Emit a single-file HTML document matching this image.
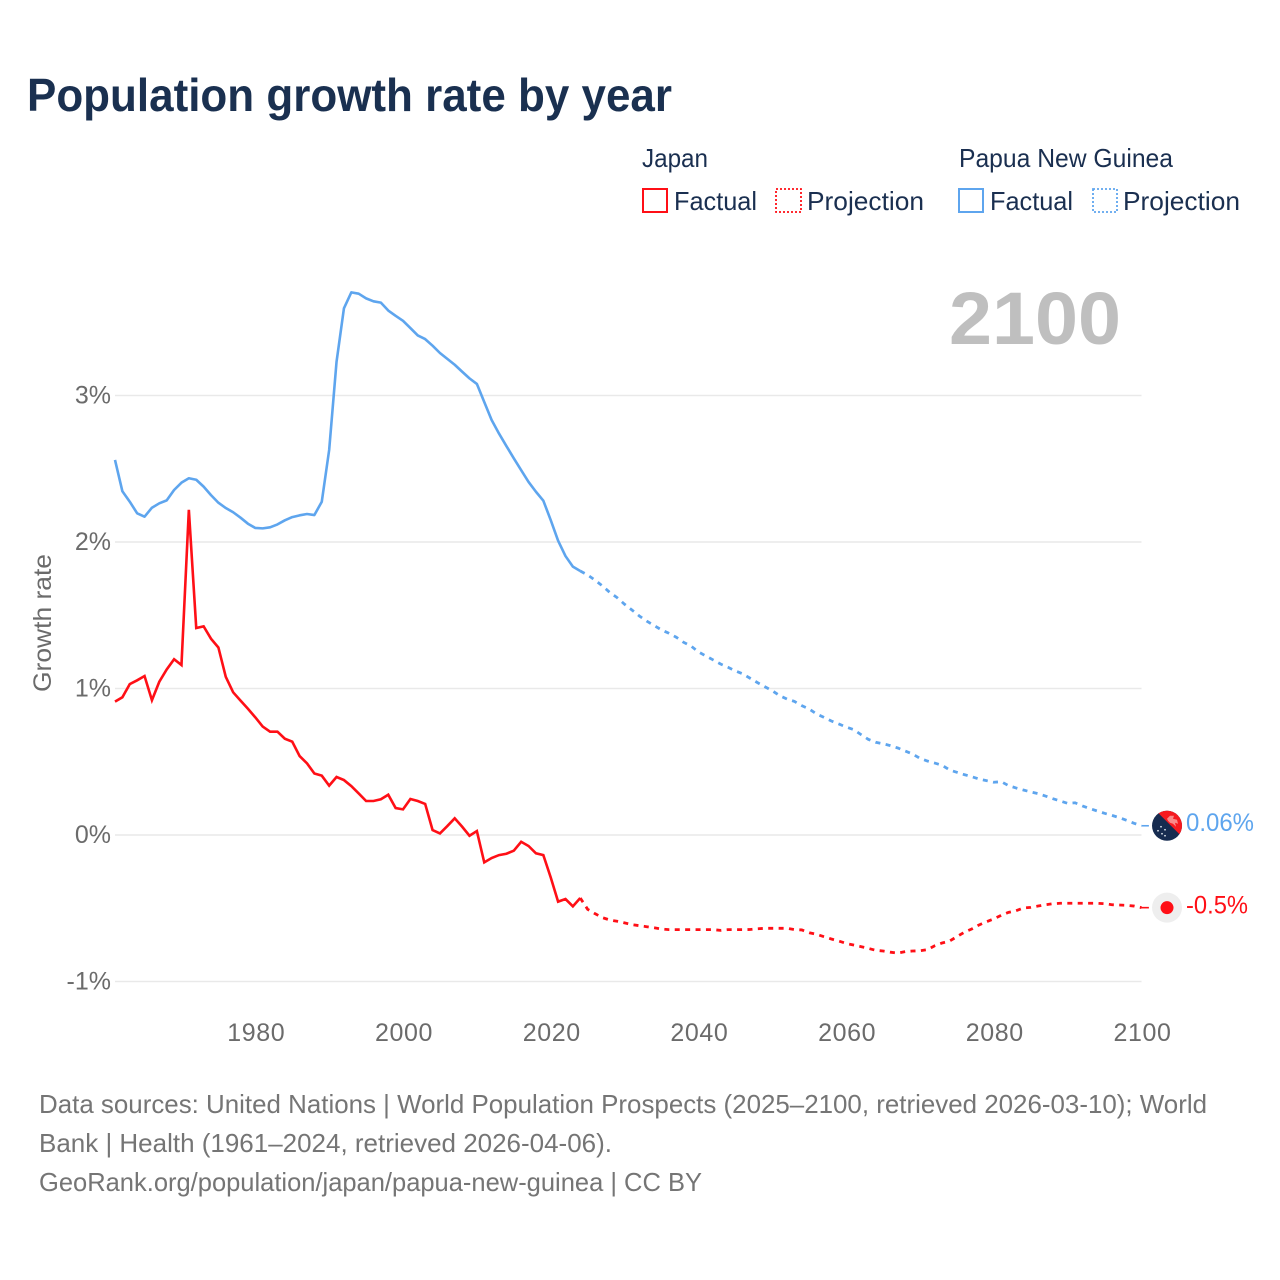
<!DOCTYPE html>
<html lang="en">
<head>
<meta charset="utf-8">
<title>Population growth rate by year</title>
<style>
  html, body { margin: 0; padding: 0; background: #fff; }
  svg { display: block; font-family: "Liberation Sans", Arial, sans-serif; }
</style>
</head>
<body>
<svg id="chart" xmlns="http://www.w3.org/2000/svg" width="1280" height="1280" viewBox="0 0 1280 1280">
  <rect x="0" y="0" width="1280" height="1280" fill="#ffffff"/>
  <text x="27" y="111" font-size="46" font-weight="700" fill="#1a3050" textLength="645" lengthAdjust="spacingAndGlyphs">Population growth rate by year</text>

  <g font-size="26" fill="#1a2f50">
    <text x="642" y="167" textLength="66" lengthAdjust="spacingAndGlyphs">Japan</text>
    <text x="959" y="167" textLength="214" lengthAdjust="spacingAndGlyphs">Papua New Guinea</text>
    <g>
      <rect x="643" y="189" width="24" height="23" fill="none" stroke="#ff0f16" stroke-width="2"/>
      <text x="674" y="210" textLength="83" lengthAdjust="spacingAndGlyphs">Factual</text>
    </g>
    <g>
      <rect x="776" y="189" width="25" height="23" fill="none" stroke="#ff0f16" stroke-width="1.8" stroke-dasharray="2 2"/>
      <text x="807" y="210" textLength="117" lengthAdjust="spacingAndGlyphs">Projection</text>
    </g>
    <g>
      <rect x="959" y="189" width="24" height="23" fill="none" stroke="#5ea5ee" stroke-width="2"/>
      <text x="990" y="210" textLength="83" lengthAdjust="spacingAndGlyphs">Factual</text>
    </g>
    <g>
      <rect x="1093" y="189" width="24" height="23" fill="none" stroke="#5ea5ee" stroke-width="1.8" stroke-dasharray="2 2"/>
      <text x="1123" y="210" textLength="117" lengthAdjust="spacingAndGlyphs">Projection</text>
    </g>
  </g>

  <text x="949" y="344" font-size="74" font-weight="700" fill="#bfbfbf" textLength="172" lengthAdjust="spacingAndGlyphs">2100</text>
  <text transform="translate(51 692) rotate(-90)" font-size="25" fill="#6b6b6b" textLength="138" lengthAdjust="spacingAndGlyphs">Growth rate</text>

  <g id="grid"></g>
  <g id="yticks" font-size="25" fill="#6b6b6b" text-anchor="end"></g>
  <g id="xticks" font-size="25" fill="#6b6b6b" text-anchor="middle"></g>
  <g id="series"></g>
  <g id="markers"></g>

  <g font-size="26" fill="#757575">
    <text x="39" y="1113" textLength="1168" lengthAdjust="spacingAndGlyphs">Data sources: United Nations | World Population Prospects (2025–2100, retrieved 2026-03-10); World</text>
    <text x="39" y="1152" textLength="573" lengthAdjust="spacingAndGlyphs">Bank | Health (1961–2024, retrieved 2026-04-06).</text>
    <text x="39" y="1191" textLength="663" lengthAdjust="spacingAndGlyphs">GeoRank.org/population/japan/papua-new-guinea | CC BY</text>
  </g>
</svg>
<script>
const factualStartYear = 1961;
const projectionStartYear = 2024;
const japanFactual = [0.91,0.94,1.03,1.056,1.085,0.92,1.046,1.13,1.20,1.16,2.22,1.413,1.424,1.34,1.28,1.08,0.974,0.917,0.862,0.803,0.74,0.705,0.705,0.657,0.637,0.539,0.489,0.42,0.405,0.337,0.396,0.375,0.334,0.284,0.232,0.232,0.244,0.275,0.184,0.175,0.246,0.232,0.212,0.034,0.011,0.061,0.114,0.057,-0.005,0.027,-0.187,-0.157,-0.137,-0.128,-0.107,-0.046,-0.075,-0.125,-0.137,-0.289,-0.455,-0.437,-0.487,-0.43];
const japanProjection = [-0.43,-0.507,-0.537,-0.564,-0.58,-0.589,-0.60,-0.612,-0.619,-0.626,-0.633,-0.642,-0.646,-0.646,-0.646,-0.646,-0.646,-0.646,-0.646,-0.651,-0.646,-0.646,-0.646,-0.645,-0.64,-0.637,-0.637,-0.637,-0.637,-0.646,-0.648,-0.667,-0.678,-0.694,-0.71,-0.724,-0.74,-0.751,-0.762,-0.774,-0.787,-0.792,-0.80,-0.806,-0.796,-0.792,-0.79,-0.783,-0.756,-0.737,-0.724,-0.694,-0.664,-0.642,-0.614,-0.592,-0.573,-0.548,-0.528,-0.517,-0.498,-0.494,-0.485,-0.476,-0.469,-0.466,-0.466,-0.466,-0.466,-0.466,-0.466,-0.469,-0.476,-0.478,-0.48,-0.485,-0.496];
const pngFactual = [2.56,2.346,2.275,2.196,2.173,2.234,2.264,2.284,2.355,2.405,2.435,2.425,2.378,2.32,2.268,2.232,2.203,2.166,2.125,2.096,2.093,2.10,2.12,2.148,2.17,2.182,2.191,2.184,2.275,2.628,3.231,3.595,3.704,3.695,3.663,3.643,3.634,3.58,3.544,3.51,3.46,3.41,3.385,3.34,3.29,3.25,3.21,3.163,3.117,3.079,2.956,2.833,2.74,2.655,2.571,2.49,2.41,2.343,2.282,2.15,2.009,1.904,1.832,1.802];
const pngProjection = [1.802,1.775,1.74,1.70,1.656,1.62,1.575,1.536,1.495,1.46,1.43,1.40,1.377,1.35,1.315,1.29,1.25,1.222,1.195,1.167,1.145,1.12,1.10,1.07,1.04,1.012,0.985,0.951,0.928,0.912,0.883,0.86,0.826,0.803,0.778,0.758,0.737,0.72,0.686,0.653,0.633,0.623,0.61,0.594,0.573,0.553,0.523,0.505,0.491,0.476,0.444,0.428,0.412,0.398,0.382,0.371,0.36,0.364,0.337,0.321,0.307,0.294,0.282,0.266,0.248,0.232,0.216,0.22,0.198,0.18,0.164,0.148,0.134,0.118,0.10,0.08,0.063];
const yTickValues = [3, 2, 1, 0, -1];
const yTickLabels = ["3%", "2%", "1%", "0%", "-1%"];
const xTickYears = [1980, 2000, 2020, 2040, 2060, 2080, 2100];
const endLabels = ["0.06%", "-0.5%"];

const NS = "http://www.w3.org/2000/svg";
const RED = "#ff0f16";
const BLUE = "#5ea5ee";
function xScale(year) { return 115 + (year - 1961) * 7.385; }
function yScale(v) { return 835 - v * 146.5; }
function make(tag, attrs, parent) {
  const el = document.createElementNS(NS, tag);
  for (const k in attrs) el.setAttribute(k, attrs[k]);
  parent.appendChild(el);
  return el;
}
function pathFrom(values, startYear) {
  return values.map(function (v, i) {
    return (i ? "L" : "M") + xScale(startYear + i).toFixed(2) + " " + yScale(v).toFixed(2);
  }).join(" ");
}

const gridG = document.getElementById("grid");
const yG = document.getElementById("yticks");
const xG = document.getElementById("xticks");
const seriesG = document.getElementById("series");
const markersG = document.getElementById("markers");

yTickValues.forEach(function (v, i) {
  const line = make("line", { x1: xScale(1961), x2: xScale(2100), y1: yScale(v), y2: yScale(v), stroke: "#e9e9e9", "stroke-width": 1.6 }, gridG);
  
  
  const label = make("text", { x: 111, y: yScale(v) + 8 }, yG);
  
  
  label.textContent = yTickLabels[i];
});

xTickYears.forEach(function (year) {
  const label = make("text", { x: xScale(year) + 1, y: 1041, "letter-spacing": "0.6" }, xG);
  
  
  label.textContent = String(year);
});

const pngLine = make("path", { d: pathFrom(pngFactual, factualStartYear), fill: "none", stroke: BLUE, "stroke-width": 2.6, "stroke-linejoin": "round" }, seriesG);



const pngDash = make("path", { d: pathFrom(pngProjection, projectionStartYear), fill: "none", stroke: BLUE, "stroke-width": 2.8, "stroke-dasharray": "5 5.4" }, seriesG);



const jpLine = make("path", { d: pathFrom(japanFactual, factualStartYear), fill: "none", stroke: RED, "stroke-width": 2.6, "stroke-linejoin": "miter" }, seriesG);



const jpDash = make("path", { d: pathFrom(japanProjection, projectionStartYear), fill: "none", stroke: RED, "stroke-width": 2.8, "stroke-dasharray": "5 5.4" }, seriesG);



const lastPng = pngProjection[pngProjection.length - 1];
const lastJp = japanProjection[japanProjection.length - 1];
const markerX = xScale(2100) + 25.5;

const pngTail = make("line", { x1: xScale(2100), x2: xScale(2101), y1: yScale(lastPng), y2: yScale(lastPng), stroke: BLUE, "stroke-width": 1.6 }, seriesG);



const jpTail = make("line", { x1: xScale(2100), x2: xScale(2101), y1: yScale(lastJp), y2: yScale(lastJp), stroke: RED, "stroke-width": 1.6 }, seriesG);



/* Papua New Guinea flag marker */
const flag = make("g", { transform: "translate(" + markerX + " " + yScale(lastPng) + ")" }, markersG);


const clip = make("clipPath", { id: "flagClip" }, flag);
make("circle", { r: 15 }, clip);
const flagBody = make("g", { "clip-path": "url(#flagClip)" }, flag);
make("rect", { x: -16, y: -16, width: 32, height: 32, fill: "#172c50" }, flagBody);
make("polygon", { points: "-12,-16 16,-16 16,12", fill: "#f51a20" }, flagBody);
make("path", { d: "M0-7 L3-10 L7-10 L6-7 L10-6 L11-2 L8-3 L9 1 L6-2 L3-3 L1-5 Z", fill: "#f98a8a" }, flagBody);
[[-6, 1], [-2, 4], [-9, 5], [-5, 8], [-2, 10]].forEach(function (p) {
  make("circle", { cx: p[0], cy: p[1], r: 0.9, fill: "#dfe4ec" }, flagBody);
});

/* Japan marker */
const jpMarker = make("g", { transform: "translate(" + markerX + " " + yScale(lastJp) + ")" }, markersG);


make("circle", { r: 15, fill: "#eeeeee" }, jpMarker);
make("circle", { r: 6.5, fill: "#ff0f16" }, jpMarker);

const pngEnd = make("text", { x: 1186, y: yScale(lastPng) + 5, "font-size": 25, fill: BLUE, textLength: 68, lengthAdjust: "spacingAndGlyphs" }, markersG);


pngEnd.textContent = endLabels[0];

const jpEnd = make("text", { x: 1186, y: yScale(lastJp) + 6, "font-size": 25, fill: RED, textLength: 62, lengthAdjust: "spacingAndGlyphs" }, markersG);


jpEnd.textContent = endLabels[1];
</script>
</body>
</html>
